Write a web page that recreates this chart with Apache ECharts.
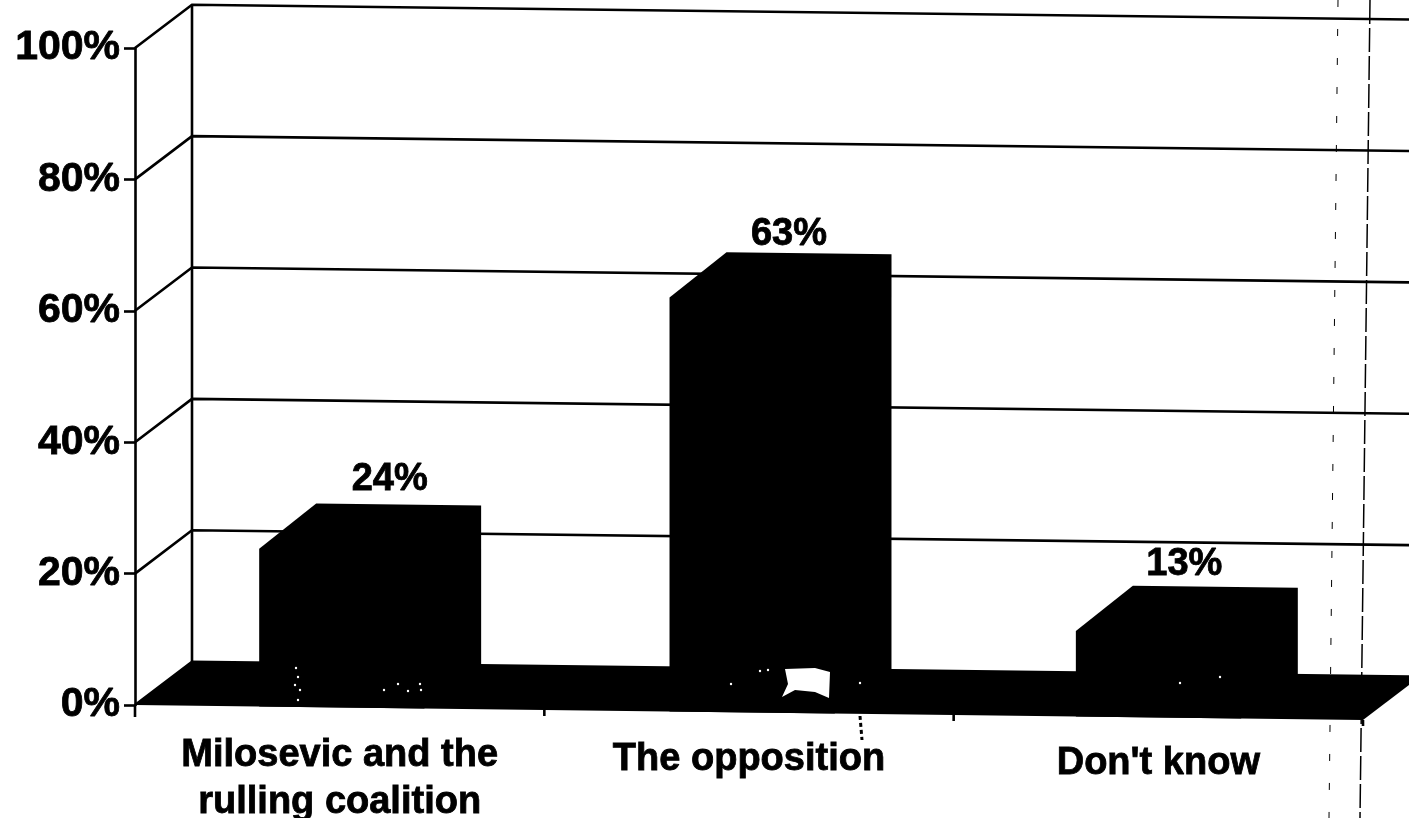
<!DOCTYPE html>
<html>
<head>
<meta charset="utf-8">
<title>Milosevic and the opposition</title>
<style>
  html, body { margin: 0; padding: 0; background: #fff; }
  #chart { width: 1409px; height: 818px; }
</style>
</head>
<body>
<div id="chart"></div>
<script src="https://cdn.jsdelivr.net/npm/echarts@6/dist/echarts.min.js"></script>
<script>
const categories = ['Milosevic and the\nrulling coalition', 'The opposition', "Don't know"];
const shares = [24, 63, 13];
const percentTicks = [0, 20, 40, 60, 80, 100];

const FONT = '"Liberation Sans", Arial, sans-serif';
const INK = '#000';
// fake 3d: depth of the box and the slight tilt of the scanned page
const DEPTH_X = 57;
const DEPTH_Y = -44;
const BAR_DEPTH_Y = -46;
const TILT = 0.0122;
const LINE = 2.6;

const chart = echarts.init(document.getElementById('chart'));

function tilted(sys, pt) {
  return [pt[0], pt[1] + (pt[0] - sys.x) * TILT];
}

// back wall, gridlines and the black floor
function renderWall(params, api) {
  const sys = params.coordSys;
  const v = api.value(0);
  const y = api.coord([0, v])[1];
  const left = tilted(sys, [sys.x, y]);
  const back = tilted(sys, [sys.x + DEPTH_X, y + DEPTH_Y]);
  const right = tilted(sys, [sys.x + sys.width + DEPTH_X, y + DEPTH_Y]);
  const children = [{
    type: 'polyline',
    shape: { points: [left, back, right] },
    style: { stroke: INK, lineWidth: LINE, fill: null }
  }];
  if (v === 0) {
    const front = tilted(sys, [sys.x + sys.width, y]);
    const top = tilted(sys, [sys.x + DEPTH_X, api.coord([0, 100])[1] + DEPTH_Y]);
    children.push({
      type: 'line',
      shape: { x1: back[0], y1: back[1], x2: top[0], y2: top[1] },
      style: { stroke: INK, lineWidth: LINE }
    });
    children.push({
      type: 'polygon',
      shape: { points: [left, back, right, front] },
      style: { fill: INK }
    });
  }
  return { type: 'group', children };
}

// label sits off centre on each bar in the original
const labelShift = [[50, -68], [40, -57], [26, -55]];
const barShift = [2, 3, 0];

function renderBar(params, api) {
  const sys = params.coordSys;
  const i = params.dataIndex;
  const top = api.coord([i, api.value(1)]);
  const base = api.coord([i, 0]);
  const band = api.size([1, 0])[0];
  const w = band * 0.403;
  const x1 = base[0] + barShift[i] - w / 2;
  const x2 = x1 + w;
  const pts = [
    [x1, base[1]],
    [x1, top[1]],
    [x1 + DEPTH_X, top[1] + BAR_DEPTH_Y],
    [x2 + DEPTH_X, top[1] + BAR_DEPTH_Y],
    [x2 + DEPTH_X, base[1] + DEPTH_Y],
    [x2, base[1]]
  ].map(p => tilted(sys, p));
  const tickX = base[0] + band / 2;
  const tick = tilted(sys, [tickX, base[1]]);
  const children = [
    { type: 'polygon', shape: { points: pts }, style: { fill: INK } },
    {
      type: 'text',
      style: {
        x: base[0] + labelShift[i][0],
        y: top[1] + labelShift[i][1],
        text: api.value(1) + '%',
        fill: INK,
        stroke: INK,
        lineWidth: 0.8,
        font: 'bold 38px ' + FONT,
        align: 'center',
        verticalAlign: 'middle'
      }
    },
    {
      type: 'line',
      shape: { x1: tickX, y1: tick[1], x2: tickX, y2: tick[1] + 6 },
      style: { stroke: INK, lineWidth: LINE }
    }
  ];
  if (i === 0) {
    children.push({
      type: 'line',
      shape: { x1: sys.x, y1: base[1], x2: sys.x, y2: base[1] + 12 },
      style: { stroke: INK, lineWidth: LINE }
    });
  }
  return { type: 'group', children };
}

// scanner marks on the original page
const specks = [
  [296, 668], [298, 677], [295, 685], [300, 690], [298, 700],
  [384, 690], [398, 684], [408, 691], [420, 684], [421, 690],
  [731, 684], [760, 671], [768, 670], [860, 683], [1180, 683], [1220, 677]
];

// the labels drop a little with the tilt, a taller line box pushes them down
const catLabel = lh => ({
  color: INK,
  fontFamily: FONT,
  fontWeight: 'bold',
  fontSize: 38,
  lineHeight: lh,
  textBorderColor: INK,
  textBorderWidth: 0.8
});

chart.setOption({
  animation: false,
  backgroundColor: '#fff',
  grid: { left: 135, right: 46, top: 48, bottom: 113, outerBoundsMode: 'none' },
  xAxis: {
    type: 'category',
    data: categories,
    axisLine: { show: false },
    axisTick: { show: false },
    axisLabel: {
      interval: 0,
      margin: 27,
      verticalAlign: 'top',
      formatter: (value, i) => value.split('\n').map(s => `{c${i}|${s}}`).join('\n'),
      rich: { c0: catLabel(47), c1: catLabel(55), c2: catLabel(63) }
    }
  },
  yAxis: {
    type: 'value',
    min: 0,
    max: 100,
    interval: 20,
    splitLine: { show: false },
    axisLine: { show: true, lineStyle: { color: INK, width: LINE } },
    axisTick: { show: true, length: 11, lineStyle: { color: INK, width: LINE } },
    axisLabel: {
      margin: 15,
      color: INK,
      fontFamily: FONT,
      fontWeight: 'bold',
      fontSize: 41,
      textBorderColor: INK,
      textBorderWidth: 0.8,
      formatter: '{value}%'
    }
  },
  series: [
    {
      type: 'custom',
      renderItem: renderWall,
      data: percentTicks.map(v => [v]),
      encode: { y: 0 },
      z: 1
    },
    {
      type: 'custom',
      renderItem: renderBar,
      data: shares.map((v, i) => [i, v]),
      encode: { x: 0, y: 1 },
      z: 2
    }
  ],
  graphic: [
    {
      type: 'line',
      shape: { x1: 1338, y1: 0, x2: 1329, y2: 818 },
      style: { stroke: INK, lineWidth: 1, lineDash: [7, 22] },
      z: 5
    },
    {
      type: 'line',
      shape: { x1: 1370, y1: 0, x2: 1360, y2: 818 },
      style: { stroke: INK, lineWidth: 1.5, lineDash: [24, 4] },
      z: 5
    },
    {
      type: 'polygon',
      shape: { points: [[785, 669], [815, 668], [830, 672], [829, 698], [815, 692], [795, 690], [782, 697], [788, 684]] },
      style: { fill: '#fff' },
      z: 6
    },
    {
      type: 'line',
      shape: { x1: 860, y1: 716, x2: 862, y2: 740 },
      style: { stroke: INK, lineWidth: 3, lineDash: [4, 3] },
      z: 6
    }
  ].concat(specks.map(p => ({
    type: 'circle',
    shape: { cx: p[0], cy: p[1], r: 1.2 },
    style: { fill: '#fff' },
    z: 6
  })))
});
</script>
</body>
</html>
